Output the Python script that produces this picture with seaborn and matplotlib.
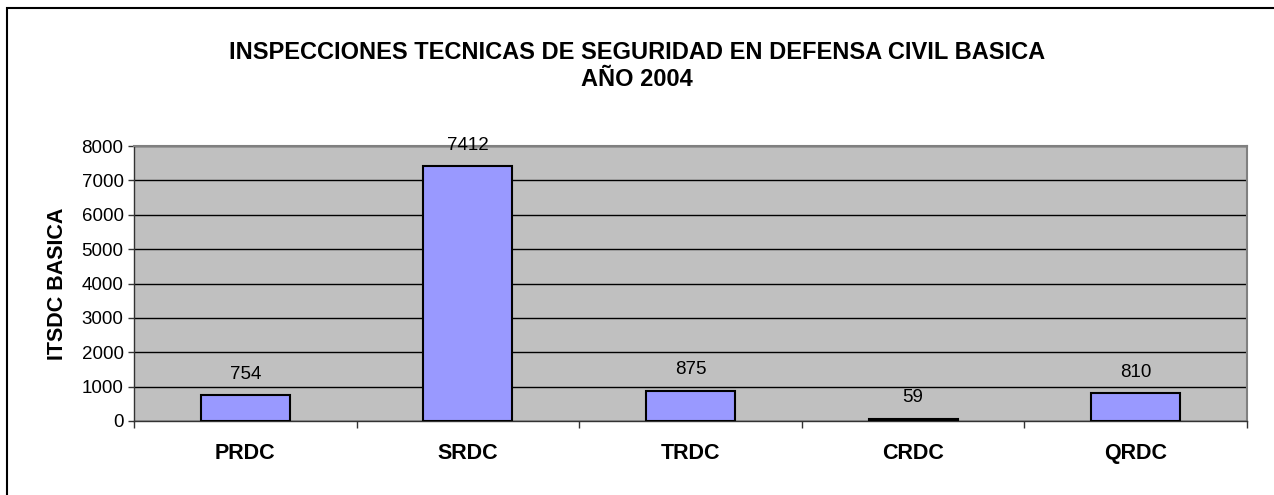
import matplotlib
matplotlib.use("Agg")
import matplotlib.pyplot as plt
import seaborn as sns
import pandas as pd
from matplotlib.patches import Rectangle
from matplotlib.ticker import FixedLocator

# data
regions = ["PRDC", "SRDC", "TRDC", "CRDC", "QRDC"]
itsdc = [754, 7412, 875, 59, 810]
yticks = [0, 1000, 2000, 3000, 4000, 5000, 6000, 7000, 8000]

df = pd.DataFrame({"Region": regions, "ITSDC": itsdc})

sns.set_style("white")
plt.rcParams["font.family"] = ["Liberation Sans", "DejaVu Sans"]
plt.rcParams["text.color"] = "black"
plt.rcParams["axes.labelcolor"] = "black"
plt.rcParams["xtick.color"] = "black"
plt.rcParams["ytick.color"] = "black"

fig = plt.figure(figsize=(12.74, 4.95), dpi=100)
ax = fig.add_axes([0.1052, 0.1495, 0.8736, 0.5555])
ax.set_facecolor("#C0C0C0")

sns.barplot(data=df, x="Region", y="ITSDC", color="#9999FF", width=0.4,
            edgecolor="black", linewidth=1.5, saturation=1, ax=ax, zorder=3)

ax.set_xlim(-0.5, len(regions) - 0.5)
ax.set_ylim(0, 8000)
ax.set_yticks(yticks)
ax.set_yticklabels([str(v) for v in yticks], fontsize=13.5)
ax.yaxis.grid(True, color="black", linewidth=1)
ax.set_axisbelow(True)

# category boundaries get the tick marks, names sit between them
ax.xaxis.set_major_locator(FixedLocator([i - 0.5 for i in range(len(regions) + 1)]))
ax.xaxis.set_minor_locator(FixedLocator(range(len(regions))))
ax.set_xticklabels([""] * (len(regions) + 1))
ax.set_xticklabels(regions, minor=True, fontsize=15.5, fontweight="bold")
ax.tick_params(axis="x", which="major", length=5, width=1, color="#333333", direction="out", bottom=True)
ax.tick_params(axis="x", which="minor", length=0, pad=16)
ax.tick_params(axis="y", length=4.5, width=1, color="#333333", direction="out", left=True, pad=3)

for s in ["top", "right"]:
    ax.spines[s].set_color("#808080")
    ax.spines[s].set_linewidth(1.5)
for s in ["left", "bottom"]:
    ax.spines[s].set_color("#333333")
    ax.spines[s].set_linewidth(1)

for i, v in enumerate(itsdc):
    ax.annotate(str(v), (i, v), xytext=(0, 9), textcoords="offset points",
                ha="center", va="bottom", fontsize=13.5)

ax.set_xlabel("")
ax.set_ylabel("ITSDC BASICA", fontsize=15.5, fontweight="bold", labelpad=10)

fig.text(0.5, 0.867, "INSPECCIONES TECNICAS DE SEGURIDAD EN DEFENSA CIVIL BASICA\nAÑO 2004",
         ha="center", va="center", fontsize=17, fontweight="bold", linespacing=1.2)

# outer frame: only its top and left edges fall inside the image
fig.patches.append(Rectangle((7 / 1274, -0.05), 1.1, 1 - 8 / 495 + 0.05, transform=fig.transFigure,
                             fill=False, edgecolor="black", linewidth=1.5))

fig.savefig("out.png", dpi=100)
